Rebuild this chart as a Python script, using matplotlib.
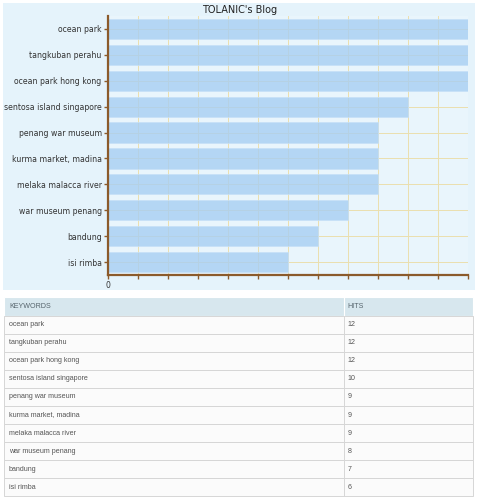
import matplotlib.pyplot as plt

# Data
keywords = ['ocean park', 'tangkuban perahu', 'ocean park hong kong',
            'sentosa island singapore', 'penang war museum', 'kurma market, madina',
            'melaka malacca river', 'war museum penang', 'bandung', 'isi rimba']
hits = [12, 12, 12, 10, 9, 9, 9, 8, 7, 6]
title = "TOLANIC's Blog"
col_labels = ['KEYWORDS', 'HITS']

W, H = 480, 500
fig = plt.figure(figsize=(W / 100, H / 100), dpi=100)
fig.patch.set_facecolor('white')

# light blue panel behind the chart
bg = fig.add_axes([3 / W, 1 - 290 / H, 472 / W, 287 / H], zorder=-5)
bg.set_facecolor('#e5f3fb')
bg.set_xticks([])
bg.set_yticks([])
for s in bg.spines.values():
    s.set_visible(False)

# Chart
ax = fig.add_axes([108 / W, 1 - 275 / H, 360 / W, 259 / H])
ax.set_facecolor('#e9f5fc')
ypos = list(range(len(keywords)))
ax.barh(ypos, hits, height=0.78, color='#a6cef3', alpha=0.78,
        edgecolor='#c6e0f7', linewidth=0.6, zorder=2)
ax.set_xlim(0, 12)
ax.set_ylim(len(keywords) - 0.5, -0.5)
ax.set_xticks(range(0, 13))
ax.set_xticklabels(['0'] + [''] * 12)
ax.set_yticks(ypos)
ax.set_yticklabels(keywords)
ax.grid(True, color='#ebdfae', linewidth=0.7)
ax.set_axisbelow(True)
for s in ['top', 'right']:
    ax.spines[s].set_visible(False)
for s in ['left', 'bottom']:
    ax.spines[s].set_color('#8b5a2b')
    ax.spines[s].set_linewidth(1.6)
    ax.spines[s].set_zorder(4)
ax.tick_params(axis='both', colors='#8b5a2b', length=3, width=1,
               labelsize=5.6, labelcolor='#333333', pad=1.5)
fig.text(240 / W, 1 - 10 / H, title, fontsize=7, color='#222222',
         ha='center', va='center')

# Table
tax = fig.add_axes([3 / W, 1 - 497 / H, 472 / W, 200 / H])
tax.set_xlim(-1, 473)
head = 1.05
tax.set_ylim(len(keywords) + 0.05, -head)
tax.axis('off')
split = 341
fs = 5.1

tax.add_patch(plt.Rectangle((0, -head), 471, head, facecolor='#d7e7ee',
                            edgecolor='#ffffff', linewidth=0.8))
tax.plot([split, split], [-head, 0], color='#ffffff', linewidth=0.8)
tax.text(5, -head / 2, col_labels[0], fontsize=fs, color='#55636b',
         va='center', family='Liberation Sans')
tax.text(split + 4, -head / 2, col_labels[1], fontsize=fs, color='#55636b',
         va='center', family='Liberation Sans')

for i, (k, h) in enumerate(zip(keywords, hits)):
    tax.add_patch(plt.Rectangle((0, i), 471, 1, facecolor='#fbfbfb',
                                edgecolor='#d6d6d6', linewidth=0.7))
    tax.plot([split, split], [i, i + 1], color='#d6d6d6', linewidth=0.7)
    tax.text(5, i + 0.5, k, fontsize=fs, color='#555555', va='center',
             family='Liberation Sans')
    tax.text(split + 4, i + 0.5, str(h), fontsize=fs, color='#555555',
             va='center', family='Liberation Sans')

fig.savefig('out.png', dpi=100)
